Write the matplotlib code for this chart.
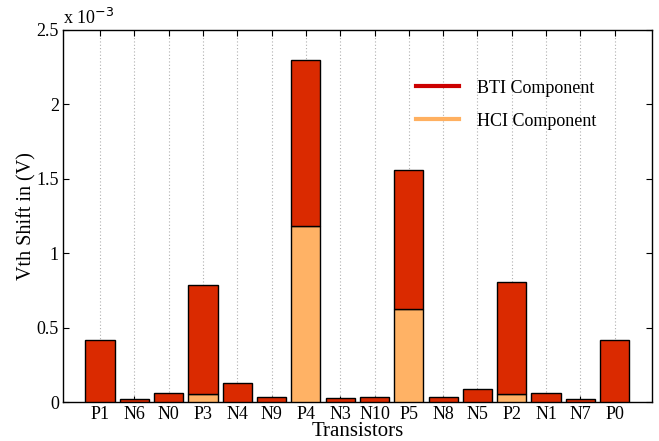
import matplotlib
matplotlib.use("Agg")
import matplotlib.pyplot as plt
import numpy as np
from matplotlib.lines import Line2D

transistors = ["P1", "N6", "N0", "P3", "N4", "N9", "P4", "N3", "N10", "P5",
               "N8", "N5", "P2", "N1", "N7", "P0"]
# values in units of 1e-3 V
total_shift = [0.417, 0.020, 0.058, 0.786, 0.125, 0.032, 2.298, 0.025, 0.032, 1.560,
               0.032, 0.087, 0.806, 0.060, 0.022, 0.417]
hci_shift = [0.0, 0.0, 0.0, 0.052, 0.0, 0.0, 1.183, 0.0, 0.0, 0.623,
             0.0, 0.0, 0.052, 0.0, 0.0, 0.0]
bti_shift = [t - h for t, h in zip(total_shift, hci_shift)]
yticks = [0, 0.5, 1, 1.5, 2, 2.5]
ytick_labels = ["0", "0.5", "1", "1.5", "2", "2.5"]

plt.rcParams['font.family'] = ['Liberation Serif', 'DejaVu Serif']

fig = plt.figure(figsize=(6.59, 4.41), dpi=100)
ax = fig.add_axes([0.0956, 0.0884, 0.8934, 0.8436])

x = np.arange(1, len(transistors) + 1)
bti_col = "#DA2A00"
hci_col = "#FFB265"
ax.bar(x, hci_shift, width=0.85, color=hci_col, edgecolor="black", linewidth=1.0, zorder=3)
ax.bar(x, bti_shift, width=0.85, bottom=hci_shift, color=bti_col, edgecolor="black", linewidth=1.0, zorder=3)

ax.set_xlim(-0.08, len(transistors) + 1.08)
ax.set_ylim(0, 2.5)
ax.set_xticks(x)
ax.set_xticklabels(transistors, fontsize=13)
ax.set_yticks(yticks)
ax.set_yticklabels(ytick_labels, fontsize=13)
ax.tick_params(direction='in', top=True, right=True, length=4, width=0.8, pad=3)
ax.xaxis.grid(True, linestyle=(0, (1, 2)), color="#b0b0b0", linewidth=0.8, zorder=0)
ax.set_axisbelow(True)
for s in ax.spines.values():
    s.set_linewidth(1.0)

ax.set_xlabel("Transistors", fontsize=15, labelpad=-1)
ax.set_ylabel("Vth Shift in (V)", fontsize=14.5, labelpad=0)
ax.text(0.0, 1.005, r"x 10$^{-3}$", transform=ax.transAxes, fontsize=13,
        ha="left", va="bottom")

handles = [Line2D([0], [0], color="#CC0000", lw=3),
           Line2D([0], [0], color="#FFB060", lw=3)]
ax.legend(handles, ["BTI Component", "HCI Component"], loc="upper right",
          bbox_to_anchor=(0.934, 0.91), frameon=False, fontsize=13,
          handlelength=2.4, labelspacing=0.88, handletextpad=1.0)

fig.savefig("out.png", dpi=100)
